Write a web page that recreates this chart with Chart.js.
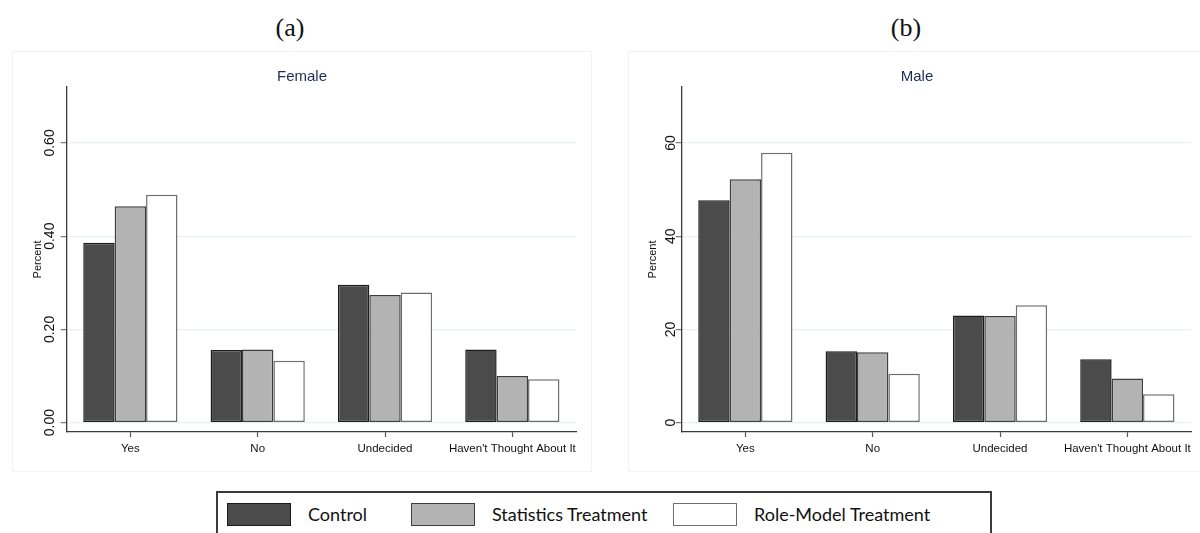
<!DOCTYPE html>
<html>
<head>
<meta charset="utf-8">
<title>Career intention by treatment group</title>
<script src="https://cdn.jsdelivr.net/npm/chart.js@4/dist/chart.umd.min.js"></script>
<style>
  html, body { margin: 0; padding: 0; background: #fff; }
  body { width: 1200px; height: 533px; position: relative; overflow: hidden; }
  .panel-label { position: absolute; top: 10px; width: 80px; margin-left: -40px; text-align: center;
    font-family: "Liberation Serif", "DejaVu Serif", serif; font-size: 26px; line-height: 36px; color: #111; }
  .frame { position: absolute; border: 1px solid #f1f4f6; box-sizing: border-box; }
  canvas { position: absolute; top: 0; }
  #legend { position: absolute; left: 216px; top: 491px; width: 776px; height: 60px;
    border: 2px solid #3a3a3a; box-sizing: border-box; background: #fff; }
  .key { position: absolute; top: 9px; height: 24px; display: flex; align-items: center; }
  .swatch { width: 64px; height: 23px; box-sizing: border-box; border: 1.5px solid #222; }
  .key span { margin-left: 17px; font-family: Lato, "Open Sans", sans-serif; font-size: 18px; color: #111; }
</style>
</head>
<body>
<div class="panel-label" style="left:290px">(a)</div>
<div class="panel-label" style="left:906px">(b)</div>
<div class="frame" style="left:12px; top:51px; width:580px; height:421px"></div>
<div class="frame" style="left:628px; top:51px; width:600px; height:421px"></div>
<canvas id="female" width="600" height="480" style="left:0px"></canvas>
<canvas id="male" width="585" height="480" style="left:615px"></canvas>
<div id="legend"></div>
<script>
// Response categories and treatment groups
const categories = ['Yes', 'No', 'Undecided', "Haven't Thought About It"];
const seriesNames = ['Control', 'Statistics Treatment', 'Role-Model Treatment'];

// Female respondents (share)
const femaleControl    = [0.386, 0.156, 0.296, 0.157];
const femaleStatistics = [0.464, 0.157, 0.274, 0.100];
const femaleRoleModel  = [0.489, 0.133, 0.279, 0.093];
const femaleTicks      = [0, 0.2, 0.4, 0.6];
const femaleTickLabels = ['0.00', '0.20', '0.40', '0.60'];

// Male respondents (percent)
const maleControl    = [47.7, 15.3, 23.0, 13.6];
const maleStatistics = [52.2, 15.1, 22.9, 9.5];
const maleRoleModel  = [57.9, 10.5, 25.2, 6.1];
const maleTicks      = [0, 20, 40, 60];
const maleTickLabels = ['0', '20', '40', '60'];

// Styling per treatment group
const fills   = ['#4b4b4b', '#b3b3b3', '#ffffff'];
const borders = ['#1c1c1c', '#3e3e3e', '#6e6e6e'];

const SANS = '"Liberation Sans", Arial, sans-serif';

function makeDatasets(values) {
  return values.map((data, i) => ({
    label: seriesNames[i],
    data: data,
    backgroundColor: fills[i],
    borderColor: borders[i],
    borderWidth: 1.5,
    borderSkipped: false,
    categoryPercentage: 0.74,
    barPercentage: 1.0
  }));
}

function makeChart(id, title, values, yMin, yMax, ticks, tickLabels, padRight) {
  return new Chart(document.getElementById(id), {
    type: 'bar',
    data: { labels: categories, datasets: makeDatasets(values) },
    options: {
      responsive: false,
      animation: false,
      devicePixelRatio: 1,
      layout: { padding: { left: 28, right: padRight, top: 0, bottom: 8 } },
      plugins: {
        legend: { display: false },
        tooltip: { enabled: false },
        title: {
          display: true,
          text: title,
          color: '#1d2b57',
          font: { family: SANS, size: 15, weight: 'normal', lineHeight: 1.2 },
          padding: { top: 68, bottom: 1 }
        }
      },
      scales: {
        x: {
          grid: { display: true, drawOnChartArea: false, drawTicks: true, tickLength: 5,
                  tickColor: '#555', tickWidth: 1.2, offset: false },
          border: { display: true, color: '#3a3a3a', width: 1.3 },
          ticks: { color: '#111', font: { family: SANS, size: 11.5 }, padding: 5,
                   maxRotation: 0, minRotation: 0, autoSkip: false },
          afterFit: s => { s.height = 40; }
        },
        y: {
          min: yMin,
          max: yMax,
          afterBuildTicks: s => { s.ticks = ticks.map(v => ({ value: v })); },
          grid: { color: '#e8f0f2', lineWidth: 1.3, drawTicks: true, tickLength: 6,
                  tickColor: '#777', tickWidth: 1.2 },
          border: { display: true, color: '#3a3a3a', width: 1.3 },
          ticks: { color: '#111', font: { family: SANS, size: 14 }, minRotation: 90, maxRotation: 90,
                   crossAlign: 'center', padding: -3,
                   callback: (v, i) => tickLabels[i] },
          title: { display: true, text: 'Percent', color: '#111',
                   font: { family: SANS, size: 11 }, padding: { top: 3, bottom: 0 } },
          afterFit: s => { s.width = 38.7; }
        }
      }
    }
  });
}

makeChart('female', 'Female', [femaleControl, femaleStatistics, femaleRoleModel],
          -0.02, 0.72, femaleTicks, femaleTickLabels, 24);
makeChart('male', 'Male', [maleControl, maleStatistics, maleRoleModel],
          -2, 72, maleTicks, maleTickLabels, 9);

// Shared legend below both panels
const keyLeft = [9, 193, 455];
const legend = document.getElementById('legend');
seriesNames.forEach((name, i) => {
  const key = document.createElement('div');
  key.className = 'key';
  key.style.left = keyLeft[i] + 'px';
  const sw = document.createElement('div');
  sw.className = 'swatch';
  sw.style.background = fills[i];
  sw.style.borderColor = borders[i];
  const tx = document.createElement('span');
  tx.textContent = name;
  key.appendChild(sw);
  key.appendChild(tx);
  legend.appendChild(key);
});
</script>
</body>
</html>
